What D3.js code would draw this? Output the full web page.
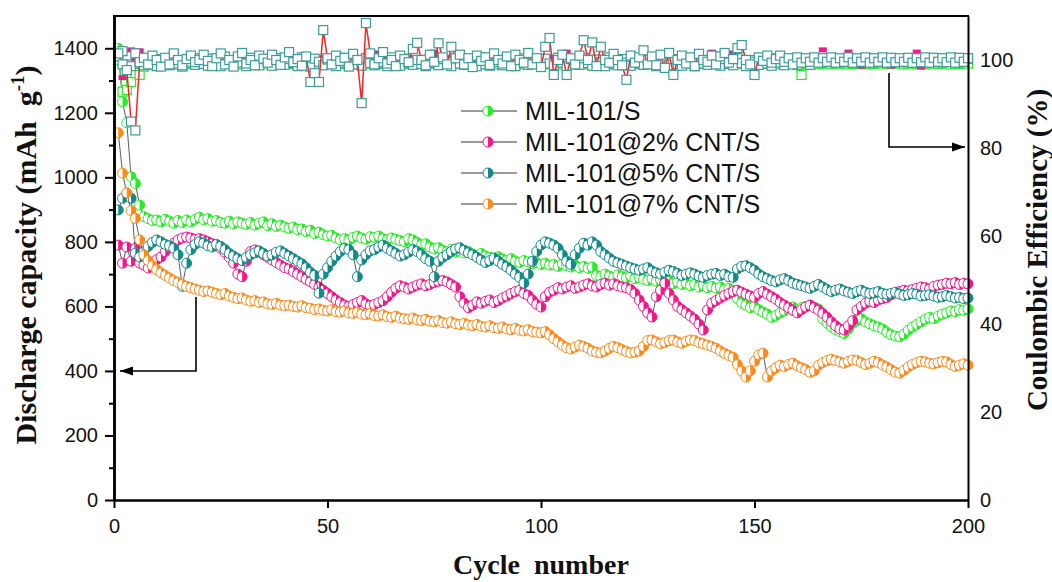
<!DOCTYPE html>
<meta charset="utf-8">
<head>
<script src="https://cdn.jsdelivr.net/npm/d3@7"></script>
</head>
<style>
  body { margin: 0; background: #fff; }
  .tick text { font-family: "Liberation Sans", Arial, sans-serif; font-size: 20px; fill: #111; }
  .title { font-family: "Liberation Serif", "Times New Roman", serif; font-weight: bold; font-size: 28px; fill: #111; }
  .legend text { font-family: "Liberation Sans", Arial, sans-serif; font-size: 25px; fill: #111; }
</style>
<body>
<script>
'use strict';

// discharge capacity (mAh/g), cycles 1..200
const capS = [1400,1234,1169,1002,981,914,878,872,866,868,
  862,870,864,858,866,860,868,862,870,876,
  868,872,864,866,860,858,864,856,862,858,
  854,860,852,858,862,850,856,848,852,846,
  842,846,838,840,832,836,826,830,822,818,
  820,812,806,810,804,814,818,812,808,816,
  814,818,810,806,812,808,804,800,810,806,
  798,790,794,784,778,782,774,770,776,768,
  772,766,770,762,758,764,756,752,748,754,
  746,742,748,740,736,742,738,732,736,730,
  734,728,730,724,732,726,722,728,720,724,
  718,722,696,692,700,694,690,698,692,688,
  694,686,690,684,680,686,678,682,674,678,
  670,676,668,672,664,668,660,666,658,662,
  656,660,652,656,650,624,610,604,596,600,
  590,582,576,566,572,580,586,592,598,590,
  596,600,604,598,592,560,548,536,528,522,
  516,530,548,556,562,552,546,540,536,530,
  520,512,508,506,514,526,536,544,552,560,
  566,562,570,576,580,586,584,590,588,592];

const cap2 = [790,734,784,740,780,734,728,719,730,745,
  753,770,784,796,806,812,815,812,808,810,
  806,800,794,788,780,768,752,734,700,692,
  740,770,775,768,760,752,744,736,728,720,
  716,708,700,692,684,676,668,660,650,640,
  630,620,612,604,600,606,612,618,608,602,
  606,612,618,630,644,656,664,660,654,660,
  666,670,664,668,674,678,680,676,668,660,
  630,610,596,604,614,610,616,620,612,618,
  626,632,640,646,650,640,634,620,606,598,
  630,644,650,658,654,660,664,656,660,666,
  670,664,660,668,672,666,670,664,660,658,
  652,640,620,600,580,567,630,650,672,640,
  620,600,590,580,570,560,545,527,589,610,
  618,626,634,640,646,650,644,638,632,628,
  640,646,638,630,622,612,604,596,588,580,
  590,598,604,596,588,578,566,552,540,530,
  527,540,556,589,600,610,616,612,620,624,
  628,636,642,646,650,648,652,656,660,658,
  654,662,666,668,672,670,674,668,672,670];

const cap5 = [899,935,950,935,765,753,770,786,798,806,
  800,792,788,780,760,662,734,776,792,800,
  796,788,784,792,786,776,764,756,748,742,
  752,760,766,772,764,756,760,768,772,764,
  756,748,740,732,720,706,696,641,700,720,
  740,756,770,780,776,760,692,744,760,772,
  776,784,790,780,772,764,756,760,768,776,
  770,760,748,740,692,740,752,760,770,778,
  782,774,766,760,752,744,736,742,750,740,
  730,722,712,700,690,672,700,740,770,790,
  800,796,790,780,760,740,730,760,780,796,
  790,800,790,770,760,750,740,735,730,725,
  720,716,712,716,720,710,704,700,706,712,
  708,702,696,700,704,700,694,690,696,700,
  702,696,700,692,690,716,724,726,720,712,
  700,692,686,680,676,682,686,680,672,668,
  664,660,656,662,668,660,652,646,650,654,
  648,644,640,646,650,644,640,642,646,640,
  638,640,644,638,634,636,640,638,632,634,
  636,632,628,630,634,630,626,628,624,626];

const cap7 = [1138,1013,952,897,873,806,759,742,726,714,
  704,696,688,680,674,668,662,658,654,650,
  646,648,644,640,636,640,632,628,624,626,
  620,616,618,612,614,608,606,610,604,602,
  604,600,598,602,596,594,590,592,588,586,
  590,584,582,586,580,578,582,576,574,578,
  572,570,574,568,566,570,564,562,560,564,
  558,556,560,554,552,556,550,548,552,546,
  544,548,542,540,544,538,536,540,534,532,
  536,530,528,532,526,524,528,522,520,518,
  522,512,500,490,480,472,468,474,480,476,
  470,462,458,456,462,470,476,472,466,460,
  456,458,462,476,494,496,490,484,488,494,
  496,490,486,492,496,494,488,484,480,476,
  470,462,454,448,442,420,400,381,400,430,
  450,455,381,400,410,418,414,420,424,416,
  410,404,396,400,418,426,432,436,432,428,
  424,430,434,432,426,420,424,430,426,418,
  412,404,396,393,402,412,420,426,430,428,
  424,422,426,430,428,420,414,418,422,418];

// coulombic efficiency (%)
const ceS = [100,92.8,93.2,95,97,96.6,98.5,99,99.2,99,
  99.3,99.1,99.2,99,99.3,99.2,99.1,99.3,99,99.2,
  99.2,99.1,99.3,99.2,99,99.2,99.3,99.1,99.2,99,
  99.3,99.2,99.1,99.2,99.3,99,99.2,99.1,99.3,99.2,
  99.2,99.1,99.3,99.2,99,99.2,99.3,99.1,99.2,99,
  99.3,99.2,99.1,99.2,99.3,99,99.2,99.1,99.3,99.2,
  99.2,99.1,99.3,99.2,99,99.2,99.3,99.1,99.2,99,
  99.3,99.2,99.1,99.2,99.3,99,99.2,99.1,99.3,99.2,
  99.2,99.1,99.3,99.2,99,99.2,99.3,99.1,99.2,99,
  99.3,99.2,99.1,99.2,99.3,99,99.2,99.1,99.3,99.2,
  99.2,99.1,99.3,99.2,99,99.2,99.3,99.1,99.2,99,
  99.3,99.2,99.1,99.2,99.3,99,99.2,99.1,99.3,99.2,
  99.2,99.1,99.3,99.2,99,99.2,99.3,99.1,99.2,99,
  99.3,99.2,99.1,99.2,99.3,99,99.2,99.1,99.3,99.2,
  99.2,99.1,99.3,99.2,99,99.2,99.3,99.1,99.2,99,
  99.3,99.2,99.1,99.2,99.3,99,99.2,99.1,99.3,99.2,
  96.6,99.1,99.3,99.2,99,99.2,99.3,99.1,99.2,99,
  99.3,99.2,99.1,99.2,99.3,99,99.2,99.1,99.3,99.2,
  99.2,99.1,99.3,99.2,99,99.2,99.3,99.1,99.2,99,
  99.3,99.2,99.1,99.2,99.3,99,99.2,99.1,99.3,99.2];

const ce2 = [100.5,96,97.3,102.3,100.2,102.1,100.4,100.8,100.3,100.5,
  100.6,100.2,100.4,100.7,100.3,100.5,100.4,100.6,100.2,100.5,
  100.4,100.6,100.3,100.5,100.2,100.6,100.4,100.3,101.1,100.5,
  100.4,100.6,100.3,100.5,100.2,100.6,100.4,100.3,100.5,100.4,
  100.4,100.6,100.3,100.5,100.2,100.6,100.4,100.3,100.5,100.4,
  100.4,100.6,100.3,100.5,100.2,100.6,100.4,100.3,100.5,100.4,
  101.6,100.6,100.3,100.5,100.2,100.6,100.4,100.3,100.5,100.4,
  100.4,100.6,100.3,100.5,101.8,100.6,100.4,100.3,100.5,100.4,
  100.4,100.6,100.3,100.5,100.2,100.6,100.4,100.3,100.5,100.4,
  100.4,100.6,100.3,100.5,100.2,100.6,100.4,100.3,100.5,100.4,
  100.4,100.6,100.3,100.5,100.2,101.8,100.4,100.3,100.5,100.4,
  100.4,100.6,98.4,100.5,100.2,100.6,100.4,100.3,100.5,100.4,
  100.4,100.6,100.3,100.5,100.2,100.6,100.4,100.3,100.5,100.4,
  100.4,100.6,100.3,100.5,100.2,100.6,100.4,100.3,100.5,101.8,
  100.4,100.6,100.3,101.6,100.2,100.6,100.4,100.3,100.5,100.4,
  100.4,100.6,100.3,100.5,100.2,100.6,100.4,100.3,100.5,100.4,
  100.4,100.6,100.3,100.5,100.2,102.3,100.4,100.3,100.5,100.4,
  100.4,101.8,100.3,100.5,98.6,100.6,100.4,100.3,100.5,100.4,
  100.4,98.6,100.3,100.5,100.2,100.6,100.4,101.8,98.4,100.4,
  100.4,100.6,100.3,100.5,100.2,100.6,100.4,100.3,100.5,100.4];

const ce5 = [100.8,102,99,98.6,101.5,99.2,98.8,100.4,99,98.6,
  100.2,99.4,98.8,100.6,99.2,98.5,100,99.6,98.9,100.4,
  99.1,98.7,100.3,99.5,98.6,100.8,99.2,98.9,100.1,99.4,
  98.6,100.5,99,98.8,100.2,99.6,98.7,100.4,99.1,98.9,
  100.2,99.3,98.6,100.6,99,98.5,100.3,99.6,98.8,100.1,
  99.2,98.6,100.5,99.4,98.9,100.2,99,98.7,100.4,99.3,
  98.8,100.1,99.5,98.6,100.6,99.2,98.7,100.3,99.4,98.9,
  100,99.1,98.6,100.5,99.3,98.8,100.2,99.6,98.6,100.4,
  99.2,98.9,100.1,99.4,98.6,100.6,99,98.7,100.3,99.5,
  98.8,100.2,99.1,98.6,100.4,99.3,98.9,100.1,99.6,98.7,
  100.3,99.2,98.8,100.5,99.4,98.6,100.2,99,98.9,100.4,
  99.3,98.7,100.1,99.5,98.6,100.6,99.1,98.8,100.2,99.4,
  98.7,100.3,99.2,98.9,100.1,99.5,98.6,100.4,99.3,98.8,
  100.2,99.1,98.7,100.5,99.4,98.6,100.1,99.2,98.9,100.3,
  99.5,98.7,100.2,99.1,98.8,100.4,99.3,98.6,100,99.6,
  98.9,100.2,99.2,98.7,100.4,99.4,98.8,100.1,99.3,98.9,
  100.2,99.5,98.9,100.3,99.6,100.2,99.6,100.3,99.5,100.2,
  99.6,100.3,99.5,100.2,99.6,100.3,99.5,100.2,99.6,100.3,
  99.5,100.2,99.6,100.3,99.5,100.2,99.6,100.3,99.5,100.2,
  99.6,100.3,99.5,100.2,99.6,100.3,99.5,100.2,99.6,100.3];

const ce7 = [101.5,99,97.7,86,84,99.5,100.5,99,101,100,
  98.5,100.5,99,101.5,100,98.8,100.2,101,99.5,100,
  101.2,99.8,98.6,100.4,101.5,99,100,98.5,100.8,101.6,
  99.2,100,98.8,101,100.3,99.4,101.2,100,98.9,100.6,
  101.8,99.5,100.2,98.7,100.8,95,97,95,106.8,100.4,
  99,101,99.8,100.5,98.5,101.4,100,90.2,108.4,101.5,
  99,100.4,101.8,99.2,100,98.6,101,100.2,99.5,102.5,
  103.9,100,98.8,101.2,99.6,103.8,100.6,99,103,100.4,
  101.2,99,100.4,98.4,101,99.8,100.6,98.9,101.5,100,
  99.2,100.8,98.6,101.2,100,99.4,101.6,99,100.4,98.4,
  103,105,96.6,100,101.2,96.6,100.4,99,101,104.5,
  100,104,98.6,103,100,99.4,101.4,100,98.8,95.5,
  101,99.4,100.6,102.2,99,100.8,98.8,101.2,98.2,101.6,
  96.6,100,101,99.2,100.6,98.6,101.4,100,99.6,101,
  99,100.8,101.6,99.4,100.2,102.7,103.4,100,99,96.6,
  100.6,99.8,101,99.4,100.2,101,99.6,100.4,99,100.6,
  99.4,100.4,99.6,100.6,99.4,100.4,99.6,100.6,99.4,100.4,
  99.6,100.6,99.4,100.4,99.6,100.6,99.4,100.4,99.6,100.6,
  99.4,100.5,99.5,100.4,99.6,100.5,99.4,100.4,99.5,100.6,
  99.4,100.5,99.6,100.4,99.5,100.6,99.4,100.5,99.6,100.4];

const seriesNames = ["MIL-101/S", "MIL-101@2% CNT/S", "MIL-101@5% CNT/S", "MIL-101@7% CNT/S"];
const seriesColors = ["#22ee22", "#f5168c", "#128a8a", "#ff8a1a"];
const capSeries = [capS, cap2, cap5, cap7];
const xTicks = [0, 50, 100, 150, 200];
const leftTicks = [0, 200, 400, 600, 800, 1000, 1200, 1400];
const leftMinor = [100, 300, 500, 700, 900, 1100, 1300];
const rightTicks = [0, 20, 40, 60, 80, 100];

const W = 1052, H = 582;
const svg = d3.select("body").append("svg").attr("width", W).attr("height", H);

const x = d3.scaleLinear().domain([0, 200]).range([114, 968]);
const yL = d3.scaleLinear().domain([0, 1500]).range([500, 16]);
const yR = d3.scaleLinear().domain([0, 110]).range([500, 16]);

const cycleOf = (i) => i + 1;

// capacity series: thin connecting line, then half-filled circles
const half = (cx, cy, r) => `M${cx},${cy - r}A${r},${r} 0 0 1 ${cx},${cy + r}Z`;
const R = 5;

capSeries.forEach((vals, k) => {
  const col = seriesColors[k];
  const line = d3.line().x((d, i) => x(cycleOf(i))).y((d) => yL(d));
  svg.append("path").datum(vals)
    .attr("d", line).attr("fill", "none")
    .attr("stroke", "#333").attr("stroke-width", 0.8);

  const g = svg.append("g");
  const m = g.selectAll("g").data(vals).enter().append("g")
    .attr("transform", (d, i) => `translate(${x(cycleOf(i))},${yL(d)})`);
  m.append("circle").attr("r", R).attr("fill", "#fff");
  m.append("path").attr("d", half(0, 0, R)).attr("fill", col);
  m.append("circle").attr("r", R).attr("fill", "none").attr("stroke", col).attr("stroke-width", 1);
});

// coulombic efficiency
const ceLine = d3.line().x((d, i) => x(cycleOf(i))).y((d) => yR(d));

svg.append("path").datum(ceS).attr("d", ceLine).attr("fill", "none")
  .attr("stroke", "#22ee22").attr("stroke-width", 1.2);
svg.append("g").selectAll("rect").data(ceS).enter().append("rect")
  .attr("x", (d, i) => x(cycleOf(i)) - 4.5).attr("y", (d) => yR(d) - 4.5)
  .attr("width", 9).attr("height", 9)
  .attr("fill", "#fff").attr("stroke", "#22ee22").attr("stroke-width", 1.2);

svg.append("g").selectAll("rect").data(ce2).enter().append("rect")
  .attr("x", (d, i) => x(cycleOf(i)) - 4).attr("y", (d) => yR(d) - 2.5)
  .attr("width", 8).attr("height", 5)
  .attr("fill", "#f5168c");

svg.append("g").selectAll("rect").data(ce5).enter().append("rect")
  .attr("x", (d, i) => x(cycleOf(i)) - 4.5).attr("y", (d) => yR(d) - 4.5)
  .attr("width", 9).attr("height", 9)
  .attr("fill", "#fff").attr("stroke", "#3d9c9c").attr("stroke-width", 1.2);

svg.append("path").datum(ce7).attr("d", ceLine).attr("fill", "none")
  .attr("stroke", "#ff2222").attr("stroke-width", 1.5);
svg.append("g").selectAll("rect").data(ce7).enter().append("rect")
  .attr("x", (d, i) => x(cycleOf(i)) - 4.5).attr("y", (d) => yR(d) - 4.5)
  .attr("width", 9).attr("height", 9)
  .attr("fill", "#fff").attr("stroke", "#3d9c9c").attr("stroke-width", 1.2);

// axes
const fmt = d3.format("d");
const gx = svg.append("g").attr("transform", "translate(0,500)")
  .call(d3.axisBottom(x).tickValues(xTicks).tickFormat(fmt).tickSize(8).tickSizeOuter(0).tickPadding(11));
const gl = svg.append("g").attr("transform", "translate(114,0)")
  .call(d3.axisLeft(yL).tickValues(leftTicks).tickFormat(fmt).tickSize(9).tickSizeOuter(0).tickPadding(7));
const glm = svg.append("g").attr("transform", "translate(114,0)")
  .call(d3.axisLeft(yL).tickValues(leftMinor).tickFormat("").tickSize(5).tickSizeOuter(0));
const gr = svg.append("g").attr("transform", "translate(968,0)")
  .call(d3.axisRight(yR).tickValues(rightTicks).tickFormat(fmt).tickSize(0).tickSizeOuter(0).tickPadding(12));

[gx, gl, glm].forEach((g) => {
  g.select(".domain").attr("stroke", "#000").attr("stroke-width", 2.5);
  g.selectAll(".tick line").attr("stroke", "#000").attr("stroke-width", 2);
});
gr.select(".domain").attr("stroke", "#000").attr("stroke-width", 2);

// top frame line
svg.append("line").attr("x1", 113).attr("x2", 969).attr("y1", 16).attr("y2", 16)
  .attr("stroke", "#000").attr("stroke-width", 2);

// axis titles
svg.append("text").attr("class", "title")
  .attr("transform", "translate(36,255) rotate(-90)")
  .attr("text-anchor", "middle")
  .style("font-size", "30px")
  .call((t) => {
    t.append("tspan").text("Discharge capacity (mAh\u00a0 g");
    t.append("tspan").attr("dy", -12).attr("font-size", 19).text("-1");
    t.append("tspan").attr("dy", 12).text(")");
  });

svg.append("text").attr("class", "title")
  .attr("transform", "translate(1047,250) rotate(-90)")
  .attr("text-anchor", "middle")
  .style("font-size", "29px")
  .text("Coulombic Efficiency (%)");

svg.append("text").attr("class", "title")
  .attr("x", 541).attr("y", 574)
  .attr("text-anchor", "middle")
  .text("Cycle\u00a0 number");

// arrows pointing to their axes
const arrow = (pts) => {
  svg.append("path").attr("d", d3.line()(pts))
    .attr("fill", "none").attr("stroke", "#000").attr("stroke-width", 1.6);
  const [x1, y1] = pts[pts.length - 2], [x2, y2] = pts[pts.length - 1];
  const dir = Math.sign(x2 - x1);
  svg.append("path")
    .attr("d", `M${x2},${y2}L${x2 - dir * 13},${y2 - 4.5}L${x2 - dir * 13},${y2 + 4.5}Z`)
    .attr("fill", "#000");
};
arrow([[196, 297], [196, 371], [120, 371]]);
arrow([[889, 73], [889, 147], [965, 147]]);

// legend
const lg = svg.append("g").attr("class", "legend");
seriesNames.forEach((name, k) => {
  const cy = 111 + k * 31;
  lg.append("line").attr("x1", 461).attr("x2", 517).attr("y1", cy).attr("y2", cy)
    .attr("stroke", "#777").attr("stroke-width", 1.5);
  lg.append("circle").attr("cx", 488).attr("cy", cy).attr("r", R).attr("fill", "#fff");
  lg.append("path").attr("d", half(488, cy, R)).attr("fill", seriesColors[k]);
  lg.append("circle").attr("cx", 488).attr("cy", cy).attr("r", R)
    .attr("fill", "none").attr("stroke", seriesColors[k]).attr("stroke-width", 1);
  lg.append("text").attr("x", 525).attr("y", cy).attr("dy", "0.36em").text(name);
});
</script>
</body>
